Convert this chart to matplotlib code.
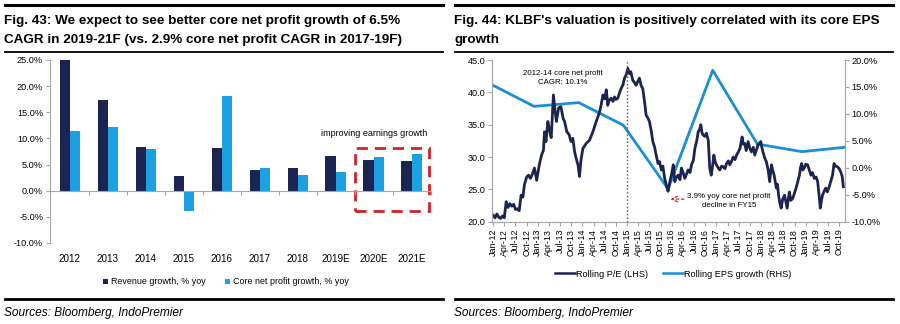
import numpy as np
import pandas as pd
import matplotlib
matplotlib.use('Agg')
import matplotlib.pyplot as plt
from matplotlib.lines import Line2D
from matplotlib.patches import Rectangle
from matplotlib.transforms import blended_transform_factory

plt.rcParams['font.family'] = ['Liberation Sans', 'DejaVu Sans']

NAVY = '#1c2552'
LIGHT = '#1ba1e2'
EPS_BLUE = '#1a8fd2'
GREY = '#a6a6a6'
RED = '#d2232a'

# Fig. 43 - yearly growth
years = ['2012', '2013', '2014', '2015', '2016', '2017', '2018', '2019E', '2020E', '2021E']
revenue_growth = [24.9, 17.4, 8.4, 2.8, 8.1, 4.0, 4.3, 6.6, 5.9, 5.7]
core_profit_growth = [11.4, 12.1, 7.9, -3.9, 18.1, 4.4, 3.0, 3.6, 6.5, 7.0]

# Fig. 44 - rolling P/E (months since Jan-12) and yearly EPS growth
pe_months = [0, 0.5, 1.0, 1.5, 2.0, 2.5, 3.0, 3.5, 4.0, 4.5, 5.0, 5.5, 6.0, 6.5, 7.0, 7.5,
             8.0, 8.4, 9.0, 9.5, 10.0, 10.5, 11.1, 11.7, 12.4, 13.0, 13.5, 13.8, 14.2, 14.7,
             15.2, 15.6, 16.2, 16.7, 17.0, 17.6, 18.2, 18.8, 19.2, 19.8, 20.4, 20.9, 21.4,
             21.9, 22.3, 22.8, 23.2, 23.6, 24.1, 25.0, 25.9, 26.8, 27.7, 28.2, 28.6, 29.0,
             29.5, 30.0, 30.4, 30.8, 31.2, 31.7, 32.2, 32.6, 33.0, 33.5, 34.0, 34.4, 34.9,
             35.3, 35.8, 36.2, 36.6, 37.0, 37.5, 38.0, 38.4, 38.9, 39.3, 39.8, 40.2, 40.7,
             41.1, 41.6, 42.0, 42.5, 42.9, 43.4, 43.8, 44.3, 44.7, 45.2, 45.6, 46.1, 46.6,
             47.0, 47.5, 48.0, 48.4, 48.8, 49.2, 49.7, 50.2, 50.6, 51.1, 51.5, 52.0, 52.4,
             52.9, 53.3, 53.8, 54.2, 54.7, 55.1, 55.5, 55.8, 56.1, 56.4, 56.9, 57.3, 57.8,
             58.2, 58.6, 59.0, 59.3, 59.7, 60.0, 60.5, 60.9, 61.4, 61.8, 62.3, 62.7, 63.2,
             63.6, 64.1, 64.5, 65.0, 65.4, 65.9, 66.3, 66.9, 67.2, 67.6, 68.0, 68.5, 69.0,
             69.4, 69.9, 70.3, 70.8, 71.2, 71.9, 72.2, 72.5, 73.0, 73.4, 73.9, 74.3, 74.8,
             75.1, 75.5, 76.1, 76.4, 76.7, 77.0, 77.4, 77.8, 78.3, 78.7, 79.0, 79.3, 79.6,
             80.0, 80.5, 81.0, 81.4, 81.9, 82.3, 82.6, 82.9, 83.2, 83.6, 84.0, 84.5, 85.0,
             85.4, 85.8, 86.3, 86.8, 87.2, 87.6, 87.9, 88.2, 88.5, 89.0, 89.4, 89.8, 90.3,
             90.8, 91.2, 91.6, 92.0, 92.5, 93.0, 93.4, 93.8, 94.1]
pe_values = [21.0, 20.6, 21.2, 20.7, 20.5, 20.9, 20.6, 23.1, 22.2, 22.8, 22.4, 22.7, 21.9, 22.0,
             21.7, 24.1, 23.8, 25.7, 26.9, 27.2, 26.7, 27.3, 28.3, 26.4, 28.8, 30.3, 31.0, 33.9,
             32.4, 35.5, 34.0, 33.0, 39.6, 36.8, 35.5, 37.6, 37.8, 36.0, 35.5, 33.9, 33.5, 32.4,
             32.9, 30.8, 29.8, 28.8, 27.0, 29.5, 31.3, 32.1, 32.6, 33.9, 35.5, 36.3, 37.0, 38.0,
             39.6, 39.0, 40.4, 38.0, 38.8, 39.1, 38.6, 39.3, 38.9, 39.1, 40.0, 40.6, 41.2, 42.2,
             42.8, 43.7, 42.9, 43.2, 41.9, 41.5, 41.1, 41.7, 42.2, 41.0, 40.6, 38.5, 36.5, 36.0,
             35.5, 34.0, 32.4, 31.5, 30.3, 29.0, 29.3, 28.0, 28.6, 26.7, 25.5, 24.7, 26.2, 27.5,
             28.8, 26.2, 26.8, 27.2, 26.5, 28.3, 27.5, 26.7, 27.4, 28.0, 27.6, 28.8, 29.5, 31.3,
             32.5, 33.9, 34.3, 35.0, 33.8, 33.4, 33.2, 33.7, 32.6, 28.3, 27.2, 28.8, 30.3, 29.2,
             28.8, 28.3, 28.0, 28.6, 28.5, 28.2, 29.0, 29.4, 28.8, 29.4, 30.0, 29.6, 30.3, 30.8,
             31.3, 33.1, 32.0, 32.1, 31.0, 32.4, 31.3, 30.8, 31.5, 30.3, 31.2, 31.9, 32.4, 31.5,
             30.8, 29.8, 29.3, 28.0, 26.2, 28.8, 28.0, 27.2, 25.2, 25.8, 24.1, 23.0, 22.1, 23.5,
             24.1, 23.0, 22.1, 23.5, 24.6, 23.3, 23.6, 24.5, 25.2, 26.3, 27.2, 28.4, 29.0, 28.0,
             28.3, 28.9, 28.8, 27.9, 27.2, 27.6, 26.7, 26.9, 26.2, 24.0, 22.1, 23.2, 24.1, 24.8,
             25.2, 24.6, 25.4, 26.4, 27.2, 29.0, 28.6, 28.5, 28.2, 27.7, 27.0, 25.4]
eps_months = [0, 11, 23, 35, 47, 59, 71, 83, 94.3]
eps_growth = [15.3, 11.4, 12.1, 7.9, -3.9, 18.1, 4.4, 3.0, 3.8]

quarter_labels = list(pd.date_range('2012-01-01', '2019-10-01', freq='QS').strftime('%b-%y'))
quarter_pos = [3 * i for i in range(len(quarter_labels))]

fig = plt.figure(figsize=(9, 3.24), dpi=100)


def panel_frame(x0, x1, line1, line2):
    # black rules around the title block and above the source line
    fig.add_artist(Line2D([x0, x1], [0.984, 0.984], color='black', lw=2.2))
    fig.add_artist(Line2D([x0, x1], [0.839, 0.839], color='black', lw=1.3))
    fig.add_artist(Line2D([x0, x1], [0.077, 0.077], color='black', lw=2.0))
    fig.text(x0, 0.935, line1, fontsize=9.7, fontweight='bold', va='center', ha='left')
    fig.text(x0, 0.876, line2, fontsize=9.7, fontweight='bold', va='center', ha='left')
    fig.text(x0, 0.034, 'Sources: Bloomberg, IndoPremier', fontsize=8.6,
             style='italic', va='center', ha='left')


panel_frame(0.005, 0.492,
            'Fig. 43: We expect to see better core net profit growth of 6.5%',
            'CAGR in 2019-21F (vs. 2.9% core net profit CAGR in 2017-19F)')
panel_frame(0.505, 0.992,
            "Fig. 44: KLBF's valuation is positively correlated with its core EPS",
            'growth')

# ---- left chart: bars ----
ax1 = fig.add_axes([0.0556, 0.25, 0.423, 0.565])
x = np.arange(len(years))
w = 0.27
ax1.bar(x - w / 2, revenue_growth, w, color=NAVY, label='Revenue growth, % yoy')
ax1.bar(x + w / 2, core_profit_growth, w, color=LIGHT, label='Core net profit growth, % yoy')
ax1.set_xlim(-0.52, 9.47)
ax1.set_ylim(-10, 25)
ax1.set_yticks(np.arange(-10, 26, 5))
ax1.set_yticklabels(['%.1f%%' % v for v in np.arange(-10, 26, 5)], fontsize=6.6)
for s in ['top', 'right']:
    ax1.spines[s].set_visible(False)
ax1.spines['left'].set_color(GREY)
ax1.spines['bottom'].set_color(GREY)
ax1.spines['bottom'].set_position(('data', 0))
ax1.set_xticks(np.arange(0.5, 10, 1))
ax1.set_xticklabels([])
ax1.tick_params(axis='x', direction='out', length=3, color=GREY)
ax1.tick_params(axis='y', direction='out', length=3, color=GREY, pad=2)
trans = blended_transform_factory(ax1.transData, ax1.transAxes)
for i, yr in enumerate(years):
    ax1.text(i, -0.087, yr, transform=trans, ha='center', va='center', fontsize=7.1)

ax1.add_patch(Rectangle((7.5, -3.8), 1.96, 12.0, fill=False, edgecolor=RED,
                        lw=2.0, ls=(0, (4, 2.5)), clip_on=False))
ax1.text(8.0, 10.9, 'improving earnings growth', ha='center', va='center', fontsize=6.5)

ax1.legend(ncol=2, frameon=False, loc='center', fontsize=6.4,
           bbox_to_anchor=(0.251, 0.13), bbox_transform=fig.transFigure,
           handlelength=0.55, handleheight=0.55, handletextpad=0.3, columnspacing=2.2)

# ---- right chart: P/E vs EPS growth ----
ax2 = fig.add_axes([0.5467, 0.3157, 0.392, 0.499])
ax3 = ax2.twinx()
ax2.set_zorder(ax3.get_zorder() + 1)
ax2.patch.set_visible(False)

ax3.plot(eps_months, eps_growth, color=EPS_BLUE, lw=2.0)
ax2.plot(pe_months, pe_values, color=NAVY, lw=2.0)
ax2.axvline(36, color='#a3303a', lw=1.0, ls=(0, (1, 1.6)))

ax2.set_xlim(-0.3, 94.5)
ax2.set_ylim(20, 45)
ax3.set_ylim(-10, 20)
ax2.set_yticks(np.arange(20, 46, 5))
ax2.set_yticklabels(['%.1f' % v for v in np.arange(20, 46, 5)], fontsize=6.6)
ax3.set_yticks(np.arange(-10, 21, 5))
ax3.set_yticklabels(['%.1f%%' % v for v in np.arange(-10, 21, 5)], fontsize=6.6)
ax2.set_xticks(quarter_pos)
ax2.set_xticklabels(quarter_labels, rotation=90, fontsize=6.4)
for a in (ax2, ax3):
    a.spines['top'].set_visible(False)
    for s in ['left', 'right', 'bottom']:
        a.spines[s].set_color(GREY)
    a.tick_params(direction='out', length=3, color=GREY, pad=2)

ax2.text(18.7, 42.2, '2012-14 core net profit\nCAGR: 10.1%', ha='center', va='center',
         fontsize=5.7, linespacing=1.3)
ax2.text(63.4, 23.2, '3.9% yoy core net profit\ndecline in FY15', ha='center', va='center',
         fontsize=5.7, linespacing=1.3)
ax2.annotate('', xy=(46.9, 23.5), xytext=(52.0, 23.5),
             arrowprops=dict(arrowstyle='->', color=RED, lw=0.9, ls=(0, (2, 2))))

handles = [Line2D([], [], color=NAVY, lw=1.8), Line2D([], [], color=EPS_BLUE, lw=1.8)]
ax2.legend(handles, ['Rolling P/E (LHS)', 'Rolling EPS growth (RHS)'], ncol=2, frameon=False,
           loc='center', fontsize=6.6, bbox_to_anchor=(0.748, 0.154),
           bbox_transform=fig.transFigure, handlelength=2.2, handletextpad=0.1,
           columnspacing=1.6)

fig.savefig('out.png', dpi=100)
